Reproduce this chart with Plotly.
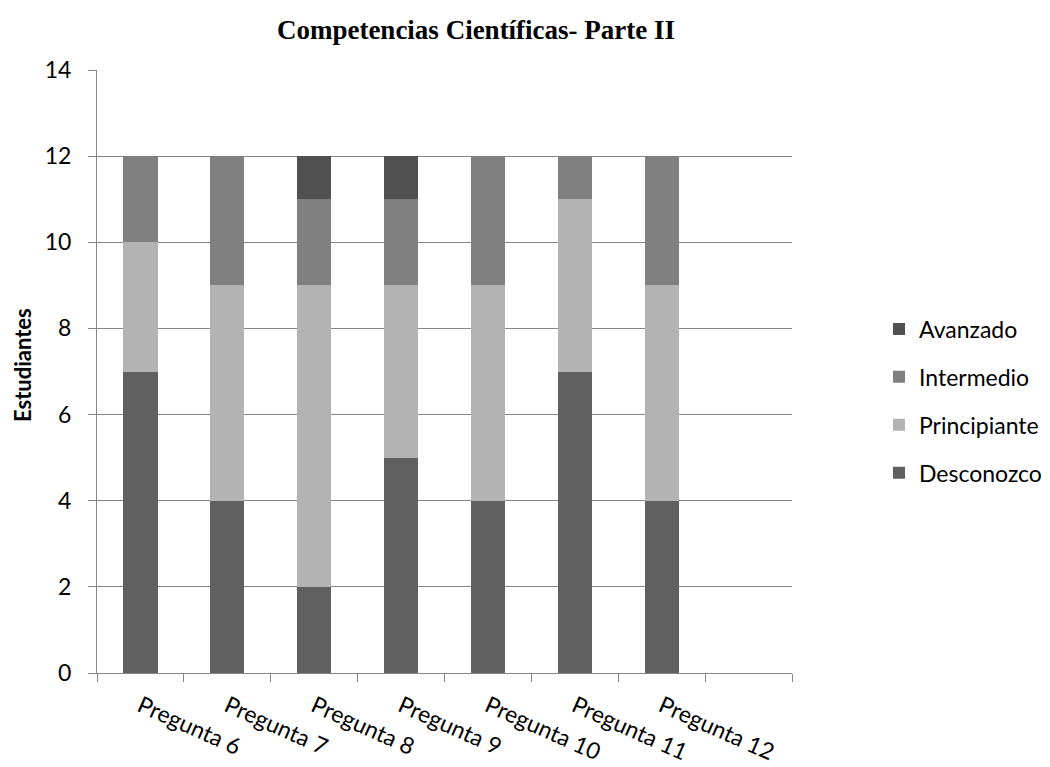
import plotly.graph_objects as go

# Survey results: number of students per competence level for each question
preguntas = ["Pregunta 6", "Pregunta 7", "Pregunta 8", "Pregunta 9",
             "Pregunta 10", "Pregunta 11", "Pregunta 12"]
desconozco = [7, 4, 2, 5, 4, 7, 4]
principiante = [3, 5, 7, 4, 5, 4, 5]
intermedio = [2, 3, 2, 2, 3, 1, 3]
avanzado = [0, 0, 1, 1, 0, 0, 0]

y_ticks = [0, 2, 4, 6, 8, 10, 12, 14]

# one extra empty slot on the category axis after the last question
categorias = preguntas + [" "]

series = [
    ("Desconozco", desconozco, "#606060"),
    ("Principiante", principiante, "#b3b3b3"),
    ("Intermedio", intermedio, "#808080"),
    ("Avanzado", avanzado, "#505050"),
]

label_font = "Lato, 'Open Sans', sans-serif"
grid_color = "#878787"

fig = go.Figure()
for i, (name, values, color) in enumerate(series):
    fig.add_trace(go.Bar(
        name=name,
        x=preguntas,
        y=values,
        marker=dict(color=color, line=dict(width=0)),
        legendgroup=f"g{i}",
        # top of the stack is listed first in the legend
        legendrank=len(series) - i,
    ))

fig.update_layout(
    width=1050,
    height=767,
    barmode="stack",
    bargap=0.605,
    plot_bgcolor="white",
    paper_bgcolor="white",
    margin=dict(l=97, r=258, t=70, b=94, autoexpand=False),
    title=dict(
        text="<b>Competencias Científicas- Parte II</b>",
        font=dict(family="'Liberation Serif', 'Times New Roman', serif", size=27, color="black"),
        x=476 / 1050,
        xanchor="center",
        xref="container",
        y=1 - 30 / 767,
        yanchor="middle",
        yref="container",
    ),
    font=dict(family=label_font, size=23, color="black"),
    legend=dict(
        x=(879 - 97) / 695,
        xanchor="left",
        y=(673 - 401) / 603,
        yanchor="middle",
        traceorder="grouped",
        tracegroupgap=15,
        font=dict(family=label_font, size=23, color="black"),
        bgcolor="rgba(0,0,0,0)",
    ),
    xaxis=dict(
        type="category",
        categoryorder="array",
        categoryarray=categorias,
        range=[-0.5, len(categorias) - 0.5],
        tickson="boundaries",
        ticks="outside",
        ticklen=8,
        tickcolor=grid_color,
        tickwidth=1,
        tickangle=24,
        showline=True,
        linecolor=grid_color,
        linewidth=1,
        showgrid=False,
        zeroline=False,
        ticklabelstandoff=10,
        tickfont=dict(family=label_font, size=23, color="black"),
    ),
    yaxis=dict(
        range=[0, 14],
        tickvals=y_ticks,
        ticks="outside",
        ticklen=8,
        tickcolor=grid_color,
        showline=True,
        linecolor=grid_color,
        linewidth=1,
        showgrid=True,
        gridcolor=grid_color,
        gridwidth=1,
        zeroline=False,
        ticklabelstandoff=12,
        tickfont=dict(family=label_font, size=23, color="black"),
    ),
    annotations=[
        dict(
            text="<b>Estudiantes</b>",
            textangle=-90,
            xref="paper",
            yref="paper",
            x=(22 - 97) / 695,
            y=(673 - 365) / 603,
            xanchor="center",
            yanchor="middle",
            showarrow=False,
            font=dict(family=label_font, size=22, color="black"),
        )
    ],
)

fig.write_html("out.html")
